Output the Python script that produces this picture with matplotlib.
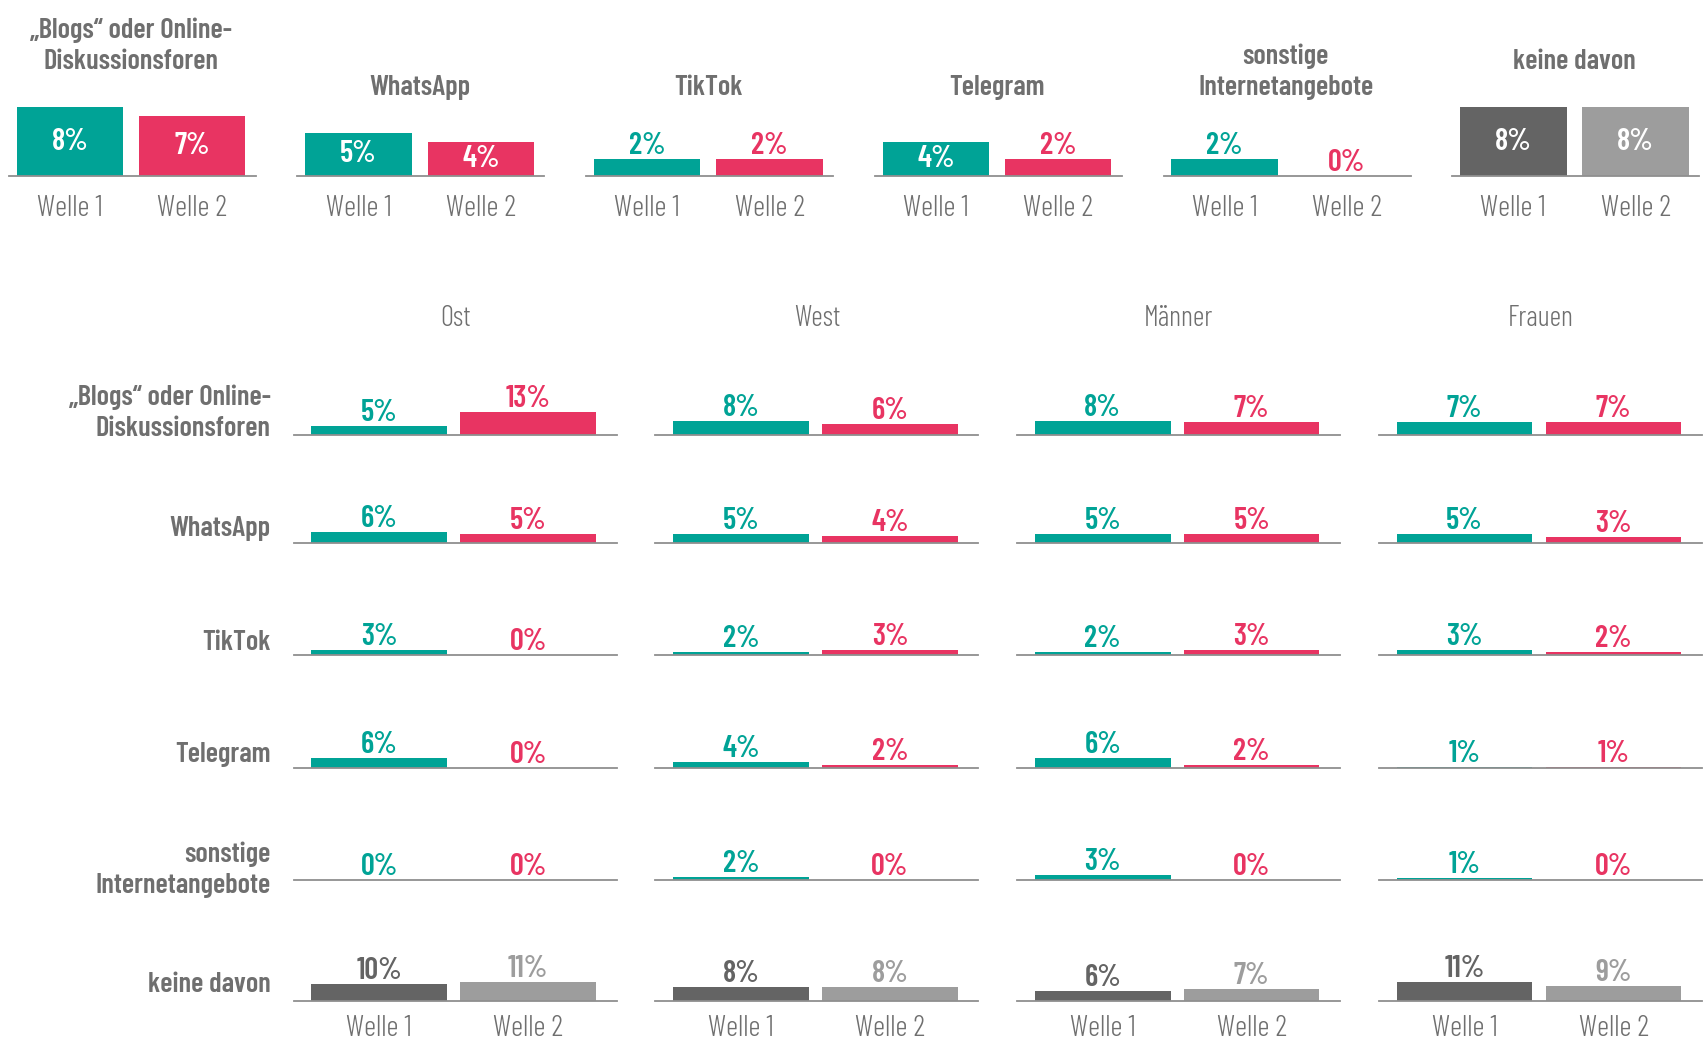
import matplotlib
matplotlib.use("Agg")
import matplotlib.pyplot as plt
from matplotlib import font_manager as fm

# data
categories = ["„Blogs“ oder Online-\nDiskussionsforen", "WhatsApp", "TikTok",
              "Telegram", "sonstige\nInternetangebote", "keine davon"]
wave_labels = ["Welle 1", "Welle 2"]

total_w1 = [8, 5, 2, 4, 2, 8]
total_w2 = [7, 4, 2, 2, 0, 8]

groups = ["Ost", "West", "Männer", "Frauen"]
ost_w1 = [5, 6, 3, 6, 0, 10]
ost_w2 = [13, 5, 0, 0, 0, 11]
west_w1 = [8, 5, 2, 4, 2, 8]
west_w2 = [6, 4, 3, 2, 0, 8]
maenner_w1 = [8, 5, 2, 6, 3, 6]
maenner_w2 = [7, 5, 3, 2, 0, 7]
frauen_w1 = [7, 5, 3, 1, 1, 11]
frauen_w2 = [7, 3, 2, 1, 0, 9]
group_w1 = [ost_w1, west_w1, maenner_w1, frauen_w1]
group_w2 = [ost_w2, west_w2, maenner_w2, frauen_w2]

# style
TEAL = "#00a396"
PINK = "#e83462"
DARK = "#646464"
LIGHT = "#9d9d9d"
TEXT = "#6f6f6f"
LINE = "#8f8f8f"

names = {f.name for f in fm.fontManager.ttflist}
cond = "DejaVu Sans"
for cand in ["Barlow Condensed", "Roboto Condensed", "Liberation Sans Narrow"]:
    if cand in names:
        cond = cand
        break
plt.rcParams["font.family"] = cond
BOLD = 600
THIN = 300
FS_VAL = 22
FS_CAT = 20.5
FS_THIN = 21.5

W, H = 1705, 1042
fig = plt.figure(figsize=(W / 100, H / 100), dpi=100)


def px_axes(x0, base, w, h):
    ax = fig.add_axes([x0 / W, 1 - base / H, w / W, h / H])
    ax.patch.set_visible(False)
    for s in ["top", "right", "left"]:
        ax.spines[s].set_visible(False)
    ax.spines["bottom"].set_color(LINE)
    ax.spines["bottom"].set_linewidth(1.3)
    ax.set_xticks([])
    ax.set_yticks([])
    return ax


# top row: totals
top_scale = 8.6  # px per percent
for i, cat in enumerate(categories):
    ax = px_axes(8.7 + 288.7 * i, 176, 247, 130)
    ax.set_xlim(-0.5, 1.52)
    ax.set_ylim(0, 130 / top_scale)
    cols = [DARK, LIGHT] if i == 5 else [TEAL, PINK]
    vals = [total_w1[i], total_w2[i]]
    ax.bar([0, 1], vals, width=0.87, color=cols)
    for x, v, c in zip([0, 1], vals, cols):
        if v >= 4:
            ax.text(x, v / 2, f"{v}%", ha="center", va="center", color="white",
                    fontsize=FS_VAL, fontweight=BOLD)
        else:
            ax.annotate(f"{v}%", (x, v), xytext=(0, 5), textcoords="offset pixels",
                        ha="center", va="baseline", color=c, fontsize=FS_VAL, fontweight=BOLD)
        ax.annotate(wave_labels[x], (x, 0), xytext=(0, -33), textcoords="offset pixels",
                    ha="center", va="center", color=TEXT, fontsize=FS_THIN, fontweight=THIN)
    ax.annotate(cat, (0.5, max(max(vals), 5)), xytext=(0, 33), textcoords="offset pixels",
                ha="center", va="bottom", multialignment="center", color=TEXT,
                fontsize=FS_CAT, fontweight=BOLD, linespacing=1.3, annotation_clip=False)

# bottom grid: groups
bot_scale = 1.72
baselines = [434.5, 542.6, 655, 768.4, 880, 1001]
label_dy = [22, 14, 13, 14, 10, 17]
for j, g in enumerate(groups):
    for r, cat in enumerate(categories):
        ax = px_axes(293.6 + 361.8 * j, baselines[r], 323, 60)
        ax.set_xlim(-0.574, 1.594)
        ax.set_ylim(0, 60 / bot_scale)
        cols = [DARK, LIGHT] if r == 5 else [TEAL, PINK]
        vals = [group_w1[j][r], group_w2[j][r]]
        ax.bar([0, 1], vals, width=0.91, color=cols)
        for x, v, c in zip([0, 1], vals, cols):
            ax.annotate(f"{v}%", (x, v), xytext=(0, 5), textcoords="offset pixels",
                        ha="center", va="baseline", color=c, fontsize=FS_VAL, fontweight=BOLD)
            if r == len(categories) - 1:
                ax.annotate(wave_labels[x], (x, 0), xytext=(0, -27), textcoords="offset pixels",
                            ha="center", va="center", color=TEXT, fontsize=FS_THIN, fontweight=THIN)
        if r == 0:
            ax.annotate(g, (0.51, 0), xytext=(0, 116), textcoords="offset pixels",
                        ha="center", va="center", color=TEXT, fontsize=FS_THIN - 1, fontweight=THIN)
        if j == 0:
            fig.text(270.8 / W, 1 - (baselines[r] - label_dy[r]) / H, cat, ha="right",
                     va="center", multialignment="right", color=TEXT, fontsize=FS_CAT,
                     fontweight=BOLD, linespacing=1.3)

fig.savefig("out.png", dpi=100)
